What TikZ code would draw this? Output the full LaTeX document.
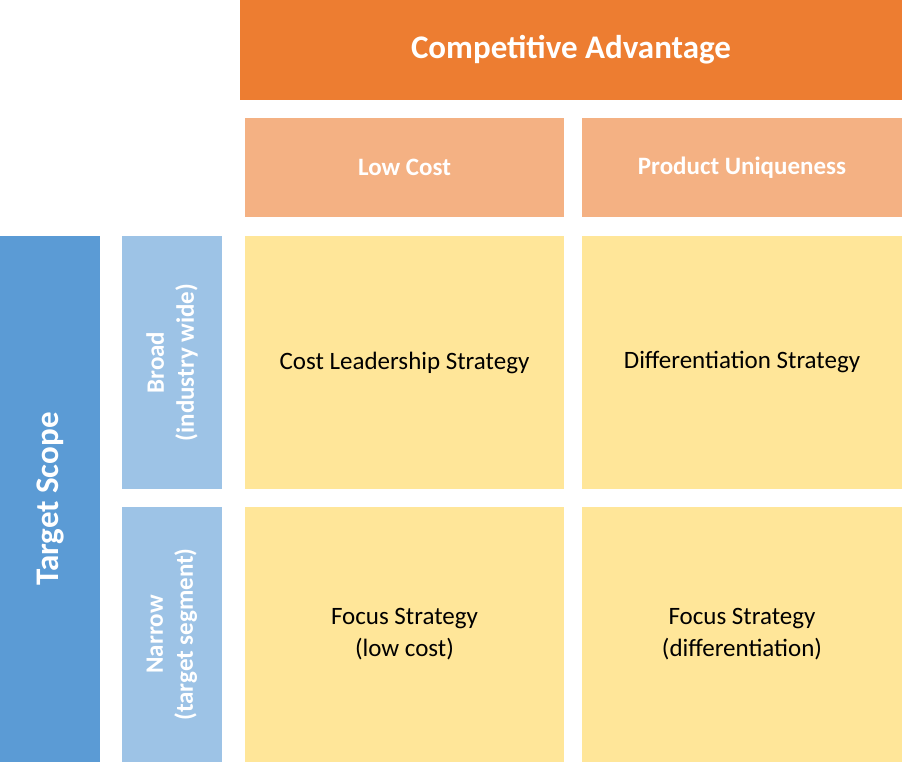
\documentclass[tikz,border=0pt]{standalone}
\usepackage{fontspec}
\setmainfont{Carlito}
\definecolor{orangeA}{HTML}{ED7D31}
\definecolor{orangeB}{HTML}{F4B183}
\definecolor{blueA}{HTML}{5B9BD5}
\definecolor{blueB}{HTML}{9DC3E6}
\definecolor{cellY}{HTML}{FFE699}
\begin{document}
\begin{tikzpicture}[x=1pt,y=-1pt,
 box/.style={draw=none,inner sep=0pt,align=center},
 white/.style={text=white,font=\bfseries}]
\useasboundingbox (0,0) rectangle (902,768);
\fill[orangeA] (240,0) rectangle (902,100);
\node[box,white,font=\bfseries\fontsize{33}{38}\selectfont] (ca) at (571,50) {Competitive Advantage};
\fill[orangeB] (245,118) rectangle (564,217);
\fill[orangeB] (582,118) rectangle (902,217);
\node[box,white,font=\bfseries\fontsize{25}{30}\selectfont] (lc) at (404.5,167.5) {Low Cost};
\node[box,white,font=\bfseries\fontsize{25}{30}\selectfont] (pu) at (742,167.5) {Product Uniqueness};
\fill[blueA] (0,236) rectangle (100,762);
\node[box,white,font=\bfseries\fontsize{33}{38}\selectfont,rotate=90] (ts) at (50,499) {Target Scope};
\fill[blueB] (122,236) rectangle (222,489);
\fill[blueB] (122,507) rectangle (222,762);
\node[box,white,font=\bfseries\fontsize{25}{30}\selectfont,rotate=90] (br) at (172,362.5) {Broad\\(industry wide)};
\node[box,white,font=\bfseries\fontsize{25}{30}\selectfont,rotate=90] (na) at (172,634.5) {Narrow\\(target segment)};
\foreach \xa/\xb in {245/564,582/902}
 \foreach \ya/\yb in {236/489,507/762}
  \fill[cellY] (\xa,\ya) rectangle (\xb,\yb);
\tikzset{cell/.style={box,font=\fontsize{25}{32}\selectfont}}
\node[cell] (c1) at (404.5,362.5) {Cost Leadership Strategy};
\node[cell] (c2) at (742,362.5) {Differentiation Strategy};
\node[cell] (c3) at (404.5,634.5) {Focus Strategy\\(low cost)};
\node[cell] (c4) at (742,634.5) {Focus Strategy\\(differentiation)};
\end{tikzpicture}
\end{document}
